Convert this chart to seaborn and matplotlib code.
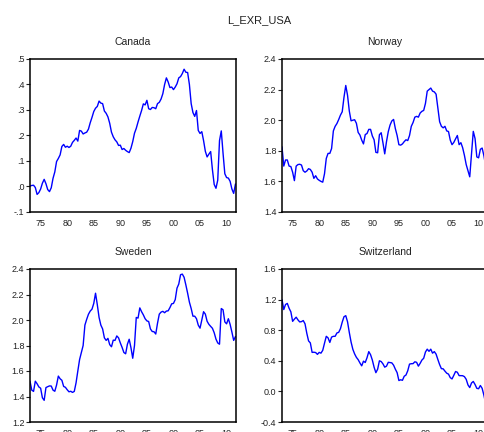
"""L_EXR_USA: four exchange-rate panels in EViews style."""

import numpy as np
import pandas as pd
import matplotlib
matplotlib.use('Agg')
import matplotlib.pyplot as plt
import seaborn as sns

# sample dates (every 4 months, 1973 - 2011)
years = 1973 + np.arange(117) / 3

canada = [
    .002, .004, .005, -.004, -.031, -.024, -.010, .013, .028, .011,
    -.012, -.020, -.005, .032, .057, .098, .110, .124, .157, .165,
    .154, .158, .153, .158, .173, .181, .190, .178, .220, .217,
    .206, .210, .213, .225, .250, .271, .294, .307, .314, .335,
    .327, .325, .296, .287, .273, .248, .213, .195, .183, .175,
    .161, .162, .145, .149, .142, .137, .133, .150, .176, .209,
    .228, .253, .276, .298, .324, .320, .338, .305, .302, .310,
    .309, .305, .325, .330, .343, .364, .400, .426, .410, .388,
    .390, .380, .390, .403, .426, .431, .443, .460, .448, .447,
    .400, .325, .290, .275, .298, .220, .208, .215, .180, .138,
    .116, .127, .137, .066, .008, -.007, .025, .180, .218, .130,
    .050, .035, .033, .020, -.010, -.027, .010,
]

norway = [
    1.826, 1.700, 1.740, 1.740, 1.700, 1.697, 1.660, 1.605, 1.700, 1.710,
    1.712, 1.707, 1.670, 1.660, 1.668, 1.683, 1.678, 1.660, 1.620, 1.637,
    1.616, 1.607, 1.600, 1.595, 1.650, 1.750, 1.783, 1.783, 1.815, 1.930,
    1.960, 1.978, 2.004, 2.033, 2.055, 2.150, 2.227, 2.163, 2.060, 1.996,
    2.000, 2.003, 1.980, 1.920, 1.903, 1.870, 1.845, 1.906, 1.913, 1.940,
    1.940, 1.897, 1.872, 1.790, 1.787, 1.905, 1.918, 1.852, 1.780, 1.860,
    1.925, 1.968, 1.995, 2.005, 1.945, 1.900, 1.840, 1.837, 1.845, 1.860,
    1.872, 1.867, 1.900, 1.960, 1.985, 2.020, 2.025, 2.020, 2.047, 2.058,
    2.064, 2.110, 2.190, 2.200, 2.210, 2.190, 2.185, 2.170, 2.080, 1.990,
    1.960, 1.950, 1.960, 1.930, 1.926, 1.870, 1.840, 1.855, 1.878, 1.900,
    1.840, 1.853, 1.820, 1.770, 1.710, 1.670, 1.630, 1.780, 1.927, 1.880,
    1.760, 1.754, 1.810, 1.818, 1.768, 1.700, 1.660,
]

sweden = [
    1.52, 1.45, 1.44, 1.52, 1.50, 1.475, 1.465, 1.39, 1.37, 1.47,
    1.477, 1.483, 1.482, 1.45, 1.441, 1.49, 1.56, 1.539, 1.527, 1.479,
    1.472, 1.453, 1.437, 1.441, 1.432, 1.44, 1.507, 1.60, 1.69, 1.745,
    1.80, 1.96, 2.005, 2.045, 2.07, 2.085, 2.13, 2.21, 2.12, 2.02,
    1.96, 1.93, 1.86, 1.84, 1.856, 1.807, 1.79, 1.842, 1.84, 1.875,
    1.86, 1.82, 1.785, 1.745, 1.735, 1.81, 1.849, 1.783, 1.70, 1.80,
    2.02, 2.015, 2.095, 2.065, 2.04, 2.01, 1.993, 1.988, 1.93, 1.91,
    1.908, 1.89, 1.975, 2.046, 2.062, 2.068, 2.057, 2.07, 2.072, 2.097,
    2.127, 2.13, 2.16, 2.25, 2.282, 2.355, 2.36, 2.335, 2.275, 2.21,
    2.14, 2.09, 2.03, 2.03, 2.01, 1.96, 1.936, 2.0, 2.065, 2.046,
    1.99, 1.966, 1.95, 1.935, 1.90, 1.85, 1.82, 1.81, 2.09, 2.08,
    1.985, 1.97, 2.01, 1.965, 1.905, 1.84, 1.87,
]

switzerland = [
    1.20, 1.07, 1.136, 1.15, 1.087, 1.04, 0.916, 0.945, 0.97, 0.935,
    0.908, 0.912, 0.926, 0.883, 0.76, 0.66, 0.634, 0.51, 0.512, 0.508,
    0.484, 0.51, 0.50, 0.537, 0.63, 0.72, 0.70, 0.64, 0.71, 0.72,
    0.72, 0.764, 0.772, 0.82, 0.905, 0.976, 0.99, 0.91, 0.77, 0.645,
    0.55, 0.49, 0.445, 0.415, 0.372, 0.334, 0.395, 0.378, 0.44, 0.52,
    0.48, 0.41, 0.316, 0.245, 0.29, 0.40, 0.39, 0.36, 0.317, 0.33,
    0.38, 0.377, 0.373, 0.343, 0.29, 0.245, 0.142, 0.152, 0.145, 0.198,
    0.214, 0.27, 0.357, 0.362, 0.363, 0.387, 0.38, 0.33, 0.367, 0.41,
    0.433, 0.515, 0.552, 0.524, 0.552, 0.50, 0.52, 0.487, 0.417, 0.35,
    0.297, 0.295, 0.265, 0.238, 0.226, 0.18, 0.163, 0.21, 0.26, 0.25,
    0.206, 0.206, 0.205, 0.193, 0.158, 0.085, 0.05, 0.11, 0.13, 0.09,
    0.04, 0.035, 0.077, 0.04, -0.05, -0.16, -0.26,
]

x_ticks = [1975, 1980, 1985, 1990, 1995, 2000, 2005, 2010]
x_labels = ['75', '80', '85', '90', '95', '00', '05', '10']

canada_ticks = [-.1, 0, .1, .2, .3, .4, .5]
canada_labels = ['-.1', '.0', '.1', '.2', '.3', '.4', '.5']
norway_ticks = [1.4, 1.6, 1.8, 2.0, 2.2, 2.4]
sweden_ticks = [1.2, 1.4, 1.6, 1.8, 2.0, 2.2, 2.4]
swiss_ticks = [-0.4, 0.0, 0.4, 0.8, 1.2, 1.6]

sns.set_style('white')
plt.rcParams['font.family'] = ['Liberation Sans', 'DejaVu Sans']

W, H = 485, 432
fig = plt.figure(figsize=(W / 100, H / 100), dpi=100)

# axes boxes in pixels: left, top, right, bottom
boxes = {
    'Canada': (30, 59, 236, 212),
    'Norway': (282, 59, 488, 212),
    'Sweden': (30, 269, 236, 422),
    'Switzerland': (282, 269, 488, 422),
}

panels = [
    ('Canada', canada, canada_ticks, canada_labels),
    ('Norway', norway, norway_ticks, [f'{t:.1f}' for t in norway_ticks]),
    ('Sweden', sweden, sweden_ticks, [f'{t:.1f}' for t in sweden_ticks]),
    ('Switzerland', switzerland, swiss_ticks, [f'{t:.1f}' for t in swiss_ticks]),
]

for name, vals, yt, yl in panels:
    l, t, r, b = boxes[name]
    ax = fig.add_axes([l / W, 1 - b / H, (r - l) / W, (b - t) / H])
    df = pd.DataFrame({'year': years, 'value': vals})
    sns.lineplot(data=df, x='year', y='value', ax=ax, color='#0000ff', linewidth=1.0)
    ax.set_xlim(1973.0, 2011.77)
    ax.set_ylim(yt[0], yt[-1])
    ax.set_xticks(x_ticks)
    ax.set_xticklabels(x_labels)
    ax.set_yticks(yt)
    ax.set_yticklabels(yl)
    ax.set_xlabel('')
    ax.set_ylabel('')
    ax.tick_params(axis='x', length=0, pad=5, labelsize=6.5, colors='#222222')
    ax.tick_params(axis='y', length=3, width=0.8, direction='out', pad=1,
                   labelsize=6.5, colors='#222222', left=True)
    for sp in ax.spines.values():
        sp.set_color('black')
        sp.set_linewidth(1.1)
    ax.set_title(name, fontsize=7.5, pad=10, color='#222222')

fig.text(259 / W, 1 - 20 / H, 'L_EXR_USA', ha='center', va='center', fontsize=8, color='#222222')

plt.savefig('out.png', dpi=100)
plt.close()
